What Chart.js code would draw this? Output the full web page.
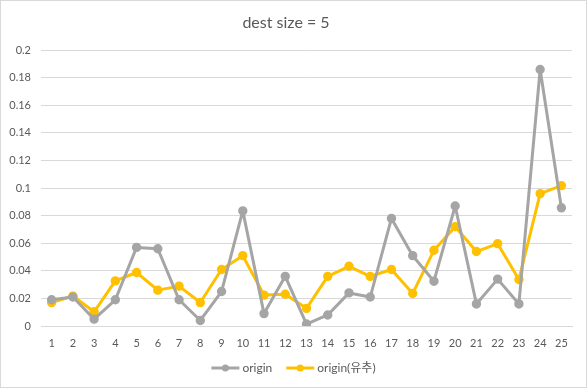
<!DOCTYPE html>
<html>
<head>
<meta charset="utf-8">
<script src="https://cdn.jsdelivr.net/npm/chart.js@4"></script>
<style>
  html, body { margin: 0; padding: 0; background: #fff; }
  #wrap { width: 587px; height: 388px; position: relative; }
</style>
</head>
<body>
<div id="wrap"><canvas id="chart"></canvas></div>
<script>
/* dest size = 5 - origin vs origin(유추) line chart */

const categories = ["1","2","3","4","5","6","7","8","9","10","11","12","13","14","15","16","17","18","19","20","21","22","23","24","25"];
const originVals = [0.019, 0.021, 0.005, 0.019, 0.057, 0.056, 0.019, 0.004, 0.025, 0.0835,
                    0.009, 0.036, 0.0014, 0.008, 0.024, 0.021, 0.078, 0.051, 0.0325, 0.087,
                    0.016, 0.034, 0.016, 0.186, 0.0857];
const inferVals  = [0.017, 0.0217, 0.0103, 0.0327, 0.0388, 0.026, 0.0289, 0.017, 0.041, 0.051,
                    0.0224, 0.023, 0.0128, 0.036, 0.0433, 0.036, 0.041, 0.0236, 0.0549, 0.072,
                    0.054, 0.0597, 0.0337, 0.096, 0.1018];
const yTicks = [0, 0.02, 0.04, 0.06, 0.08, 0.1, 0.12, 0.14, 0.16, 0.18, 0.2];

const FONT = "Lato, 'Noto Sans CJK KR', sans-serif";
const TXT  = "#595959";
const GRID = "#d9d9d9";

// ----- background + outer frame -----
const framePlugin = {
  id: "frame",
  beforeDraw(chart) {
    const c = chart.ctx;
    c.save();
    c.fillStyle = "#fff";
    c.fillRect(0, 0, chart.width, chart.height);
    c.strokeStyle = GRID;
    c.lineWidth = 1;
    c.strokeRect(0.5, 0.5, chart.width - 1, chart.height - 1);
    c.restore();
  }
};

// ----- legend: line with dot marker, like the spreadsheet one -----
const lineLegend = {
  id: "lineLegend",
  afterDraw(chart) {
    const c = chart.ctx;
    c.save();
    c.font = "12px " + FONT;
    c.textBaseline = "middle";
    const y = 368;
    const items = chart.data.datasets.map(d => ({ text: d.label, color: d.borderColor }));
    const seg = 28, gap = 3, between = 14;
    let total = 0;
    items.forEach(it => { it.w = c.measureText(it.text).width; total += seg + gap + it.w; });
    total += between * (items.length - 1);
    let x = (chart.width - total) / 2;
    for (const it of items) {
      c.strokeStyle = it.color;
      c.lineWidth = 3;
      c.beginPath(); c.moveTo(x, y); c.lineTo(x + seg, y); c.stroke();
      c.fillStyle = it.color;
      c.beginPath(); c.arc(x + seg / 2, y, 3.5, 0, Math.PI * 2); c.fill();
      c.fillStyle = TXT;
      c.fillText(it.text, x + seg + gap, y);
      x += seg + gap + it.w + between;
    }
    c.restore();
  }
};

new Chart(document.getElementById("chart"), {
  type: "line",
  data: {
    labels: categories,
    datasets: [
      { label: "origin", data: originVals, borderColor: "#a5a5a5", backgroundColor: "#a5a5a5",
        borderWidth: 3, borderJoinStyle: "round", pointRadius: 3.2, pointHoverRadius: 3.2, tension: 0 },
      { label: "origin(유추)", data: inferVals, borderColor: "#ffc000", backgroundColor: "#ffc000",
        borderWidth: 3, borderJoinStyle: "round", pointRadius: 3.2, pointHoverRadius: 3.2, tension: 0 },
    ],
  },
  options: {
    responsive: true,
    maintainAspectRatio: false,
    animation: false,
    layout: { padding: { left: 0, right: 15, top: 0, bottom: 40 } },
    plugins: {
      legend: { display: false },
      tooltip: { enabled: false },
      title: {
        display: true,
        text: "dest size = 5",
        color: TXT,
        font: { family: FONT, size: 16, weight: "normal" },
        padding: { top: 13, bottom: 18 },
      },
    },
    scales: {
      x: {
        offset: true,
        grid: { display: false },
        border: { display: true, color: GRID },
        ticks: { color: TXT, font: { family: FONT, size: 11 }, maxRotation: 0, autoSkip: false, padding: 3 },
        afterFit(scale) { scale.height = 22; },
      },
      y: {
        min: 0, max: 0.2,
        afterBuildTicks(scale) { scale.ticks = yTicks.map(v => ({ value: v })); },
        grid: { color: GRID, drawTicks: false },
        border: { display: false },
        ticks: { color: TXT, font: { family: FONT, size: 11 }, padding: 10,
                 callback: v => String(+v.toFixed(2)) },
        afterFit(scale) { scale.width = 41; },
      },
    },
  },
  plugins: [framePlugin, lineLegend],
});
</script>
</body>
</html>
